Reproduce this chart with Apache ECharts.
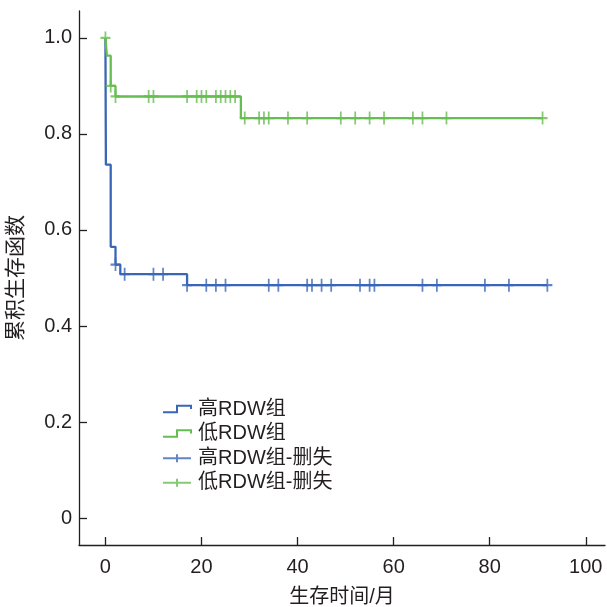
<!DOCTYPE html>
<html>
<head>
    <meta charset="utf-8">
    <title>累积生存函数</title>
    <style>
        html, body { margin: 0; padding: 0; background: #fff; }
    </style>
</head>
<body>
<div id="main" style="width: 607px; height: 607px;"></div>

<script src="https://cdn.jsdelivr.net/npm/echarts@6/dist/echarts.min.js"></script>
<script>
    // 高RDW组: event times (months) and survival after each event
    var highTimes = [0, 0.1, 1.1, 2.1, 3.1, 17];
    var highSurv = [1.0, 0.736, 0.565, 0.528, 0.508, 0.485];
    var highEnd = 92;
    var highCensor = [2.1, 4, 10, 12, 17, 21, 23, 25, 34, 36, 42, 43, 45, 47, 53, 55, 56, 66, 69, 79, 84, 92];

    // 低RDW组
    var lowTimes = [0, 0.3, 1.1, 2.1, 28.2];
    var lowSurv = [1.0, 0.963, 0.90, 0.878, 0.833];
    var lowEnd = 91;
    var lowCensor = [0, 1.1, 2.1, 9, 10, 17, 19, 20, 21, 23, 24, 25, 26, 27, 29, 32, 33, 34, 38, 42, 49, 52, 55, 58, 64, 66, 71, 91];

    var xTicks = [0, 20, 40, 60, 80, 100];
    var yTicks = [0, 0.2, 0.4, 0.6, 0.8, 1.0];

    var names = ['高RDW组', '低RDW组', '高RDW组-删失', '低RDW组-删失'];
    var blue = '#3a66b7';
    var green = '#66bd50';
    var ink = '#231f20';
    var font = '"Liberation Sans", "Noto Sans CJK SC", sans-serif';

    var stepPoints = function (times, surv, end) {
        var d = [];
        for (var i = 0; i < times.length; i++) {
            d.push([times[i], surv[i]]);
        }
        d.push([end, surv[surv.length - 1]]);
        return d;
    };

    // value of the step curve at time t (after any event at t)
    var survAt = function (times, surv, t) {
        var v = surv[0];
        for (var i = 0; i < times.length; i++) {
            if (times[i] <= t) v = surv[i];
        }
        return v;
    };

    var censorPoints = function (times, surv, cens) {
        return cens.map(function (t) {
            return [t, survAt(times, surv, t)];
        });
    };

    var stepIcon = 'path://M0,6 L13,6 L13,0 L26,0 L26,3';
    var crossIcon = 'path://M0,4 L28,4 M14,0 L14,8';
    var crossSymbol = 'path://M0,6 L10,6 M5,0 L5,12';

    var legendItem = function (name, icon, color) {
        return {
            name: name,
            icon: icon,
            itemStyle: { color: 'rgba(0,0,0,0)', borderColor: color, borderWidth: 2 }
        };
    };

    var myChart = echarts.init(document.getElementById('main'));

    var option = {
        animation: false,
        backgroundColor: '#fff',
        textStyle: { fontFamily: font },
        grid: { left: 79, right: 2, top: 11, bottom: 62, containLabel: false, outerBoundsMode: 'none' },
        legend: {
            orient: 'vertical',
            left: 157,
            top: 394,
            itemWidth: 28,
            itemHeight: 8,
            itemGap: 4.6,
            symbolKeepAspect: true,
            selectedMode: false,
            textStyle: { fontSize: 20, color: ink, fontFamily: font, padding: [0, 0, 0, 2] },
            data: [
                legendItem(names[0], stepIcon, blue),
                legendItem(names[1], stepIcon, green),
                legendItem(names[2], crossIcon, blue),
                legendItem(names[3], crossIcon, green)
            ]
        },
        xAxis: {
            type: 'value',
            min: -5.5,
            max: 104,
            name: '生存时间/月',
            nameLocation: 'middle',
            nameGap: 42,
            nameTextStyle: { fontSize: 20, color: ink, fontFamily: font },
            splitLine: { show: false },
            axisLine: { show: true, onZero: false, lineStyle: { color: ink, width: 1.3 } },
            axisTick: { show: true, inside: true, length: 8, customValues: xTicks, lineStyle: { color: ink, width: 1.3 } },
            axisLabel: { fontSize: 20, color: ink, margin: 12, customValues: xTicks }
        },
        yAxis: {
            type: 'value',
            min: -0.056,
            max: 1.056,
            name: '累积生存函数',
            nameLocation: 'middle',
            nameGap: 52,
            nameTextStyle: { fontSize: 21, color: ink, fontFamily: font },
            splitLine: { show: false },
            axisLine: { show: true, onZero: false, lineStyle: { color: ink, width: 1.3 } },
            axisTick: { show: true, inside: true, length: 8, customValues: yTicks, lineStyle: { color: ink, width: 1.3 } },
            axisLabel: {
                fontSize: 20,
                color: ink,
                margin: 7,
                customValues: yTicks,
                formatter: function (v) {
                    return v === 0 ? '0' : v.toFixed(1);
                }
            }
        },
        series: [
            {
                name: names[0],
                type: 'line',
                step: 'end',
                showSymbol: false,
                lineStyle: { color: blue, width: 2.3 },
                itemStyle: { color: blue },
                data: stepPoints(highTimes, highSurv, highEnd),
                z: 2
            },
            {
                name: names[1],
                type: 'line',
                step: 'end',
                showSymbol: false,
                lineStyle: { color: green, width: 2.3 },
                itemStyle: { color: green },
                data: stepPoints(lowTimes, lowSurv, lowEnd),
                z: 3
            },
            {
                name: names[2],
                type: 'scatter',
                symbol: crossSymbol,
                symbolSize: [10, 13],
                itemStyle: { color: 'rgba(0,0,0,0)', borderColor: blue, borderWidth: 2 },
                data: censorPoints(highTimes, highSurv, highCensor),
                z: 4
            },
            {
                name: names[3],
                type: 'scatter',
                symbol: crossSymbol,
                symbolSize: [10, 13],
                itemStyle: { color: 'rgba(0,0,0,0)', borderColor: green, borderWidth: 2 },
                data: censorPoints(lowTimes, lowSurv, lowCensor),
                z: 5
            }
        ]
    };

    myChart.setOption(option);
</script>
</body>
</html>
